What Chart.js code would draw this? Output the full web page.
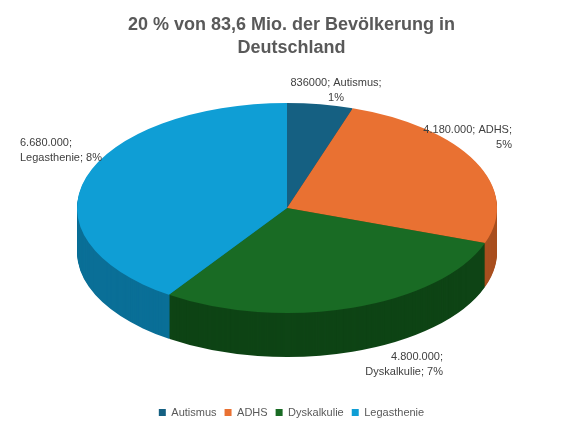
<!DOCTYPE html>
<html><head><meta charset="utf-8">
<script src="https://cdn.jsdelivr.net/npm/chart.js@4"></script>
<style>html,body{margin:0;padding:0;background:#fff;}#w{width:583px;height:438px;position:relative;}</style>
</head><body><div id="w"><canvas id="c" width="583" height="438"></canvas></div>
<script>
const categories = ["Autismus","ADHS","Dyskalkulie","Legasthenie"];
const values = [836000,4180000,4800000,6680000];
const valueLabels = ["836000","4.180.000","4.800.000","6.680.000"];
const percentLabels = ["1%","5%","7%","8%"];
const topColors = ["#156082","#E97132","#196B24","#0F9ED5"];
const sideColors = ["#0D3F56","#A94F1F","#0E4415","#0A6F97"];

const CX=287, CY=208, SY=0.5, DEPTH=44;
const pie3d={id:'pie3d',
 beforeDatasetsDraw(chart){
  const ctx=chart.ctx, meta=chart.getDatasetMeta(0), a0=meta.data[0];
  for(let d=DEPTH; d>=1; d--){
   ctx.save(); ctx.translate(CX,CY+d); ctx.scale(1,SY); ctx.translate(-a0.x,-a0.y);
   meta.data.forEach((arc,i)=>{const o=arc.options; const bg=o.backgroundColor,bw=o.borderWidth;
     o.backgroundColor=sideColors[i]; o.borderWidth=0; arc.draw(ctx); o.backgroundColor=bg; o.borderWidth=bw;});
   ctx.restore();
  }
  ctx.save(); ctx.translate(CX,CY); ctx.scale(1,SY); ctx.translate(-a0.x,-a0.y);
 },
 afterDatasetsDraw(chart){chart.ctx.restore();},
 afterDraw(chart){
  const ctx=chart.ctx; ctx.save(); ctx.font='11px "Liberation Sans", Arial'; ctx.fillStyle='#404040'; ctx.textBaseline='middle';
  const L=[
   [["836000; Autismus;","1%"].map((t,j)=>j==0?valueLabels[0]+"; "+categories[0]+";":percentLabels[0]),336,83,'center'],
   [[valueLabels[1]+"; "+categories[1]+";",percentLabels[1]],512,130,'right'],
   [[valueLabels[2]+";",categories[2]+"; "+percentLabels[2]],443,357,'right'],
   [[valueLabels[3]+";",categories[3]+"; "+percentLabels[3]],20,143,'left']];
  L.forEach(([lines,x,y,al])=>{ctx.textAlign=al; lines.forEach((t,j)=>ctx.fillText(t,x,y+j*15));});
  ctx.restore();
 }};

new Chart(document.getElementById('c'),{type:'pie',
 data:{labels:categories,datasets:[{data:values,backgroundColor:topColors,borderWidth:0,radius:210}]},
 options:{responsive:false,animation:false,events:[],
  layout:{padding:{left:5,right:5,top:5,bottom:10}},
  plugins:{
   title:{display:true,text:["20 % von 83,6 Mio. der Bevölkerung in","Deutschland"],color:'#595959',
    font:{size:18,weight:'bold',family:'"Liberation Sans", Arial',lineHeight:1.3},padding:{top:8,bottom:0}},
   legend:{position:'bottom',labels:{color:'#595959',font:{size:11,family:'"Liberation Sans", Arial'},usePointStyle:true,pointStyle:'rect',boxWidth:7,boxHeight:7,padding:8}},
   tooltip:{enabled:false}}},
 plugins:[pie3d]});
</script></body></html>
